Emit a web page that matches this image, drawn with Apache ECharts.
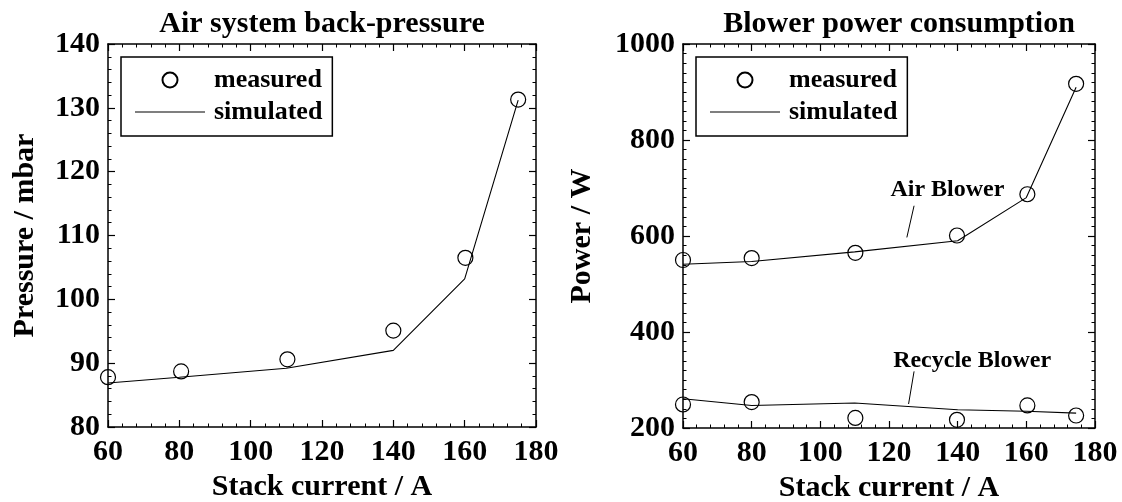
<!DOCTYPE html>
<html>
<head>
<meta charset="utf-8">
<script src="https://cdn.jsdelivr.net/npm/echarts@6/dist/echarts.min.js"></script>
<style>
  html, body { margin: 0; padding: 0; background: #fff; }
  #chart { width: 1122px; height: 502px; }
</style>
</head>
<body>
<div id="chart"></div>
<script>
// ---- data ----
const currentTicks = [60, 80, 100, 120, 140, 160, 180];
const pressureTicks = [80, 90, 100, 110, 120, 130, 140];
const powerTicks = [200, 400, 600, 800, 1000];

// Air system back-pressure (mbar)
const pressureMeasuredCurrent = [60, 80.5, 110.3, 140, 160.2, 175];
const pressureMeasured = [87.8, 88.7, 90.6, 95.1, 106.5, 131.3];
const pressureSimCurrent = [60, 80, 110, 140, 160, 175];
const pressureSim = [86.9, 87.8, 89.2, 92.0, 103.2, 131.2];

// Blower power consumption (W)
const powerMeasuredCurrent = [60, 80, 110.2, 139.8, 160.3, 174.5];
const airMeasured = [550, 554, 565, 601, 687, 917];
const recycleMeasured = [249, 254, 221, 217, 247, 226];
const powerSimCurrent = [60, 80, 110, 140, 160, 174.5];
const airSim = [541, 547, 567, 590, 680, 910];
const recycleSim = [261, 247, 252, 238, 235, 231];

// curve labels with their leader lines (data coordinates of the power plot)
const curveNames = ['Air Blower', 'Recycle Blower'];
const curveNameAt = [[137, 696], [144.2, 340]];
const leaderLines = [
  [[127.3, 663], [125.2, 597]],
  [[127.3, 318], [125.7, 250]]
];

// ---- styling ----
const FONT = '"Times New Roman", "Liberation Serif", Times, serif';
const INK = '#000';

function pairs(xs, ys) { return xs.map((x, i) => [x, ys[i]]); }

function axisBase(ticks, minorSplit) {
  return {
    type: 'value',
    min: ticks[0],
    max: ticks[ticks.length - 1],
    interval: ticks[1] - ticks[0],
    axisLine: { show: true, onZero: false, lineStyle: { color: INK, width: 1.5 } },
    axisTick: { show: true, inside: true, length: 7, lineStyle: { color: INK, width: 1.2 } },
    minorTick: { show: true, splitNumber: minorSplit, length: 3.5, lineStyle: { color: INK, width: 1 } },
    splitLine: { show: false },
    minorSplitLine: { show: false }
  };
}

function labelled(base, margin, extra) {
  return Object.assign(base, {
    axisLabel: {
      show: true, margin: margin, color: INK, fontFamily: FONT, fontWeight: 'bold', fontSize: 30,
      formatter: v => String(v)
    }
  }, extra);
}

function mirror(base, extra) {
  return Object.assign(base, { axisLabel: { show: false } }, extra);
}

const xName = 'Stack current / A';
const nameStyle = { color: INK, fontFamily: FONT, fontWeight: 'bold', fontSize: 30 };

const xAxes = [
  labelled(axisBase(currentTicks, 5), 10, {
    gridIndex: 0, position: 'bottom', name: xName, nameLocation: 'middle', nameGap: 44,
    nameTextStyle: nameStyle
  }),
  mirror(axisBase(currentTicks, 5), { gridIndex: 0, position: 'top' }),
  labelled(axisBase(currentTicks, 5), 10, {
    gridIndex: 1, position: 'bottom', name: xName, nameLocation: 'middle', nameGap: 44,
    nameTextStyle: nameStyle
  }),
  mirror(axisBase(currentTicks, 5), { gridIndex: 1, position: 'top' })
];

const yAxes = [
  labelled(axisBase(pressureTicks, 5), 8, {
    gridIndex: 0, position: 'left', name: 'Pressure / mbar', nameLocation: 'middle', nameGap: 68,
    nameTextStyle: nameStyle
  }),
  mirror(axisBase(pressureTicks, 5), { gridIndex: 0, position: 'right' }),
  labelled(axisBase(powerTicks, 10), 8, {
    gridIndex: 1, position: 'left', name: 'Power / W', nameLocation: 'middle', nameGap: 86,
    nameTextStyle: nameStyle
  }),
  mirror(axisBase(powerTicks, 10), { gridIndex: 1, position: 'right' })
];

const measuredStyle = {
  type: 'scatter', name: 'measured', symbol: 'circle', symbolSize: 15,
  itemStyle: { color: 'rgba(255,255,255,0)', borderColor: INK, borderWidth: 1.2, opacity: 1 },
  z: 3
};
const simStyle = {
  type: 'line', name: 'simulated', symbol: 'none', showSymbol: false,
  lineStyle: { color: INK, width: 1.1 }, itemStyle: { color: INK },
  z: 2
};

const series = [
  Object.assign({}, measuredStyle, { xAxisIndex: 0, yAxisIndex: 0, data: pairs(pressureMeasuredCurrent, pressureMeasured) }),
  Object.assign({}, simStyle, { xAxisIndex: 0, yAxisIndex: 0, data: pairs(pressureSimCurrent, pressureSim) }),
  Object.assign({}, measuredStyle, { xAxisIndex: 2, yAxisIndex: 2, data: pairs(powerMeasuredCurrent, airMeasured) }),
  Object.assign({}, simStyle, { xAxisIndex: 2, yAxisIndex: 2, data: pairs(powerSimCurrent, airSim) }),
  Object.assign({}, measuredStyle, { xAxisIndex: 2, yAxisIndex: 2, data: pairs(powerMeasuredCurrent, recycleMeasured) }),
  Object.assign({}, simStyle, { xAxisIndex: 2, yAxisIndex: 2, data: pairs(powerSimCurrent, recycleSim) })
];

// leader lines
leaderLines.forEach((seg, i) => {
  series.push({
    type: 'line', name: 'leader-' + i, xAxisIndex: 2, yAxisIndex: 2,
    data: seg, symbol: 'none', silent: true,
    lineStyle: { color: INK, width: 1 }
  });
});

// curve names
series.push({
  type: 'scatter', name: 'curve-names', xAxisIndex: 2, yAxisIndex: 2,
  symbolSize: 1, silent: true, itemStyle: { color: 'rgba(0,0,0,0)', opacity: 1 },
  data: curveNames.map((n, i) => ({ name: n, value: curveNameAt[i] })),
  label: {
    show: true, position: 'inside', formatter: p => p.name,
    color: INK, fontFamily: FONT, fontWeight: 'bold', fontSize: 24
  }
});

// plain horizontal stroke used as the "simulated" legend key
const LINE_KEY = 'path://M0,0L70,0L70,1.2L0,1.2Z';

function legendAt(left) {
  return {
    data: [{ name: 'measured' }, { name: 'simulated', icon: LINE_KEY }],
    orient: 'vertical',
    left: left, top: 57,
    padding: [10, 10, 11, 14],
    itemGap: 6,
    itemWidth: 70, itemHeight: 15,
    symbolKeepAspect: true,
    borderColor: INK, borderWidth: 1.5,
    backgroundColor: '#fff',
    selectedMode: false,
    textStyle: {
      color: INK, fontFamily: FONT, fontWeight: 'bold', fontSize: 26,
      lineHeight: 26, padding: [0, 0, 0, 4]
    }
  };
}

const titleStyle = { color: INK, fontFamily: FONT, fontWeight: 'bold', fontSize: 30 };

const option = {
  backgroundColor: '#fff',
  animation: false,
  title: [
    { text: 'Air system back-pressure', left: 317, top: 4, textAlign: 'center', textStyle: titleStyle },
    { text: 'Blower power consumption', left: 894, top: 4, textAlign: 'center', textStyle: titleStyle }
  ],
  legend: [legendAt(121), legendAt(696)],
  grid: [
    { left: 108, top: 44, width: 428, height: 383, outerBoundsMode: 'none', containLabel: false },
    { left: 683, top: 44, width: 412, height: 384, outerBoundsMode: 'none', containLabel: false }
  ],
  xAxis: xAxes,
  yAxis: yAxes,
  series: series
};

const chart = echarts.init(document.getElementById('chart'), null, { renderer: 'canvas' });
chart.setOption(option);
</script>
</body>
</html>
